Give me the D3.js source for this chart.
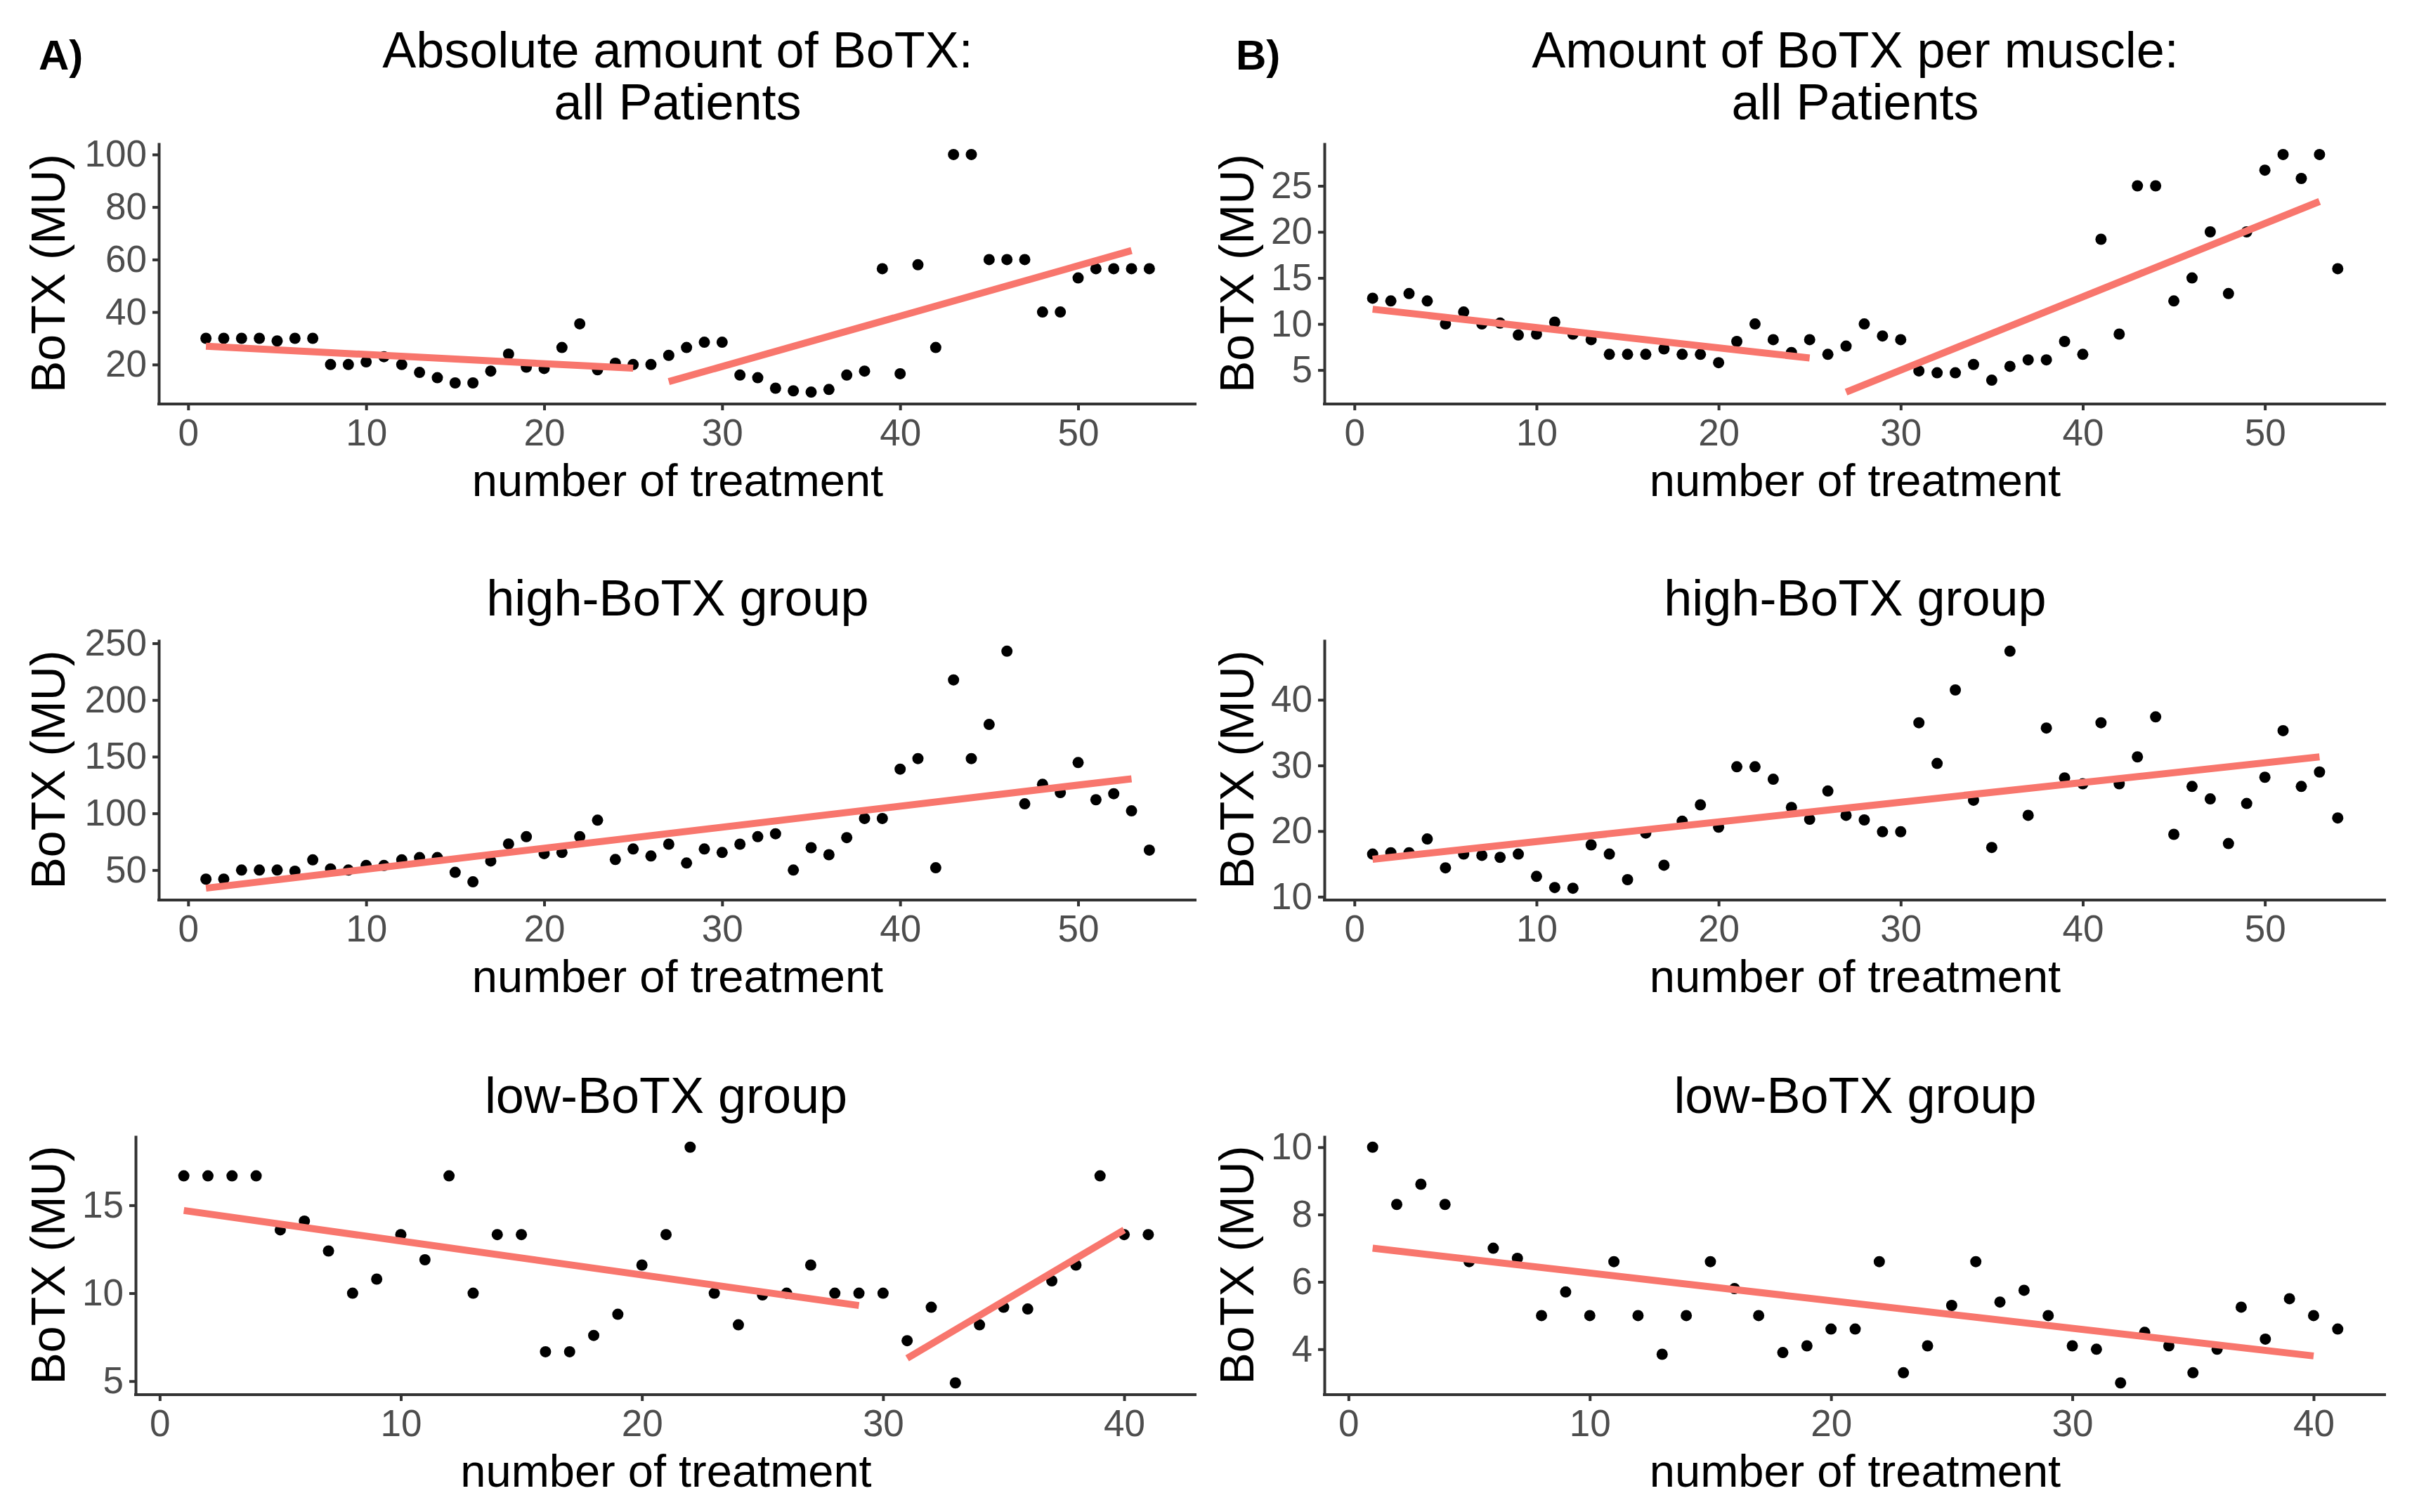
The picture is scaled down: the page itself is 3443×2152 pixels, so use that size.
<!DOCTYPE html>
<html>
<head>
<meta charset="utf-8">
<script src="https://cdn.jsdelivr.net/npm/d3@7"></script>
<style>
  html, body { margin: 0; padding: 0; background: #ffffff; }
  svg { display: block; }
  text { font-family: "Liberation Sans", Arial, Helvetica, sans-serif; }
</style>
</head>
<body>
<svg id="chart" width="3443" height="2152"></svg>
<script>
// ---------------- DATA ----------------
const treatments54 = [1,2,3,4,5,6,7,8,9,10,11,12,13,14,15,16,17,18,19,20,21,22,23,24,25,26,27,28,29,30,31,32,33,34,35,36,37,38,39,40,41,42,43,44,45,46,47,48,49,50,51,52,53,54];
const treatments41 = [1,2,3,4,5,6,7,8,9,10,11,12,13,14,15,16,17,18,19,20,21,22,23,24,25,26,27,28,29,30,31,32,33,34,35,36,37,38,39,40,41];

// A) absolute amount of BoTX
const absAll = [30,30,30,30,29,30,30,20,20,21,23,20,17,15,13,13,17.5,24,19,18.5,26.5,35.5,18,20.5,20,20,23.5,26.5,28.5,28.5,16,15,11,10,9.5,10.5,16,17.5,56.5,16.5,58,26.5,100,100,60,60,60,40,40,53,56.5,56.5,56.5,56.5];
const absHigh = [42,42,50,50,50,49,59,51,50,54,54,59,61,61,48,39.6,58,73,79.4,64.5,65.5,79.4,94,59.3,68.6,62.4,72.8,56.2,68.6,65.5,72.8,79.4,82,50,69.7,63.5,78.6,95.5,95.5,139,148.3,52,217.7,148.3,178.4,243,108.4,125.6,118.3,144.8,112,117.3,102.2,67.6];
const absLow = [16.67,16.67,16.67,16.67,13.6,14.1,12.4,10,10.8,13.33,11.9,16.67,10,13.33,13.33,6.67,6.67,7.6,8.8,11.6,13.33,18.3,10,8.2,9.9,10,11.6,10,10,10,7.3,9.2,4.9,8.2,9.2,9.1,10.7,11.6,16.67,13.33,13.33];

// B) amount of BoTX per muscle
const perMuscleAll = [12.8,12.5,13.3,12.5,10,11.3,10,10.1,8.8,8.9,10.2,8.9,8.3,6.7,6.7,6.7,7.3,6.7,6.7,5.8,8.1,10,8.3,6.9,8.3,6.7,7.6,10,8.7,8.3,4.9,4.7,4.7,5.6,3.9,5.4,6.1,6.1,8.1,6.7,19.2,8.9,25,25,12.5,15,20,13.3,20,26.7,28.4,25.8,28.4,16];
const perMuscleHigh = [16.5,16.7,16.7,18.8,14.4,16.5,16.3,16,16.5,13.1,11.4,11.3,17.9,16.5,12.6,19.7,14.8,21.5,24,20.6,29.8,29.8,27.9,23.6,21.8,26.1,22.4,21.7,19.9,19.9,36.5,30.3,41.5,24.7,17.5,47.4,22.4,35.7,28.1,27.2,36.5,27.2,31.3,37.4,19.5,26.8,24.9,18.1,24.2,28.2,35.3,26.8,29,22];
const perMuscleLow = [10,8.3,8.9,8.3,6.6,7,6.7,5,5.7,5,6.6,5,3.85,5,6.6,5.8,5,3.9,4.1,4.6,4.6,6.6,3.3,4.1,5.3,6.6,5.4,5.75,5,4.1,4,3,4.5,4.1,3.3,4,5.25,4.3,5.5,5,4.6];

// fitted regression segments: [xStart, xEnd, yStart, yEnd]
const fitAbsAll = [[1,25,27,18.6],[27,53,13.5,63.4]];
const fitAbsHigh = [[1,53,34,130.5]];
const fitAbsLow = [[1,29,14.7,9.3],[31,40,6.3,13.6]];
const fitPerMuscleAll = [[1,25,11.6,6.3],[27,53,2.6,23.3]];
const fitPerMuscleHigh = [[1,53,15.7,31.3]];
const fitPerMuscleLow = [[1,40,7.0,3.8]];

// tick labels
const xTicks54 = [0,10,20,30,40,50];
const xTicks41 = [0,10,20,30,40];
const yTicksAbsAll = [20,40,60,80,100];
const yTicksAbsHigh = [50,100,150,200,250];
const yTicksAbsLow = [5,10,15];
const yTicksPerMuscleAll = [5,10,15,20,25];
const yTicksPerMuscleHigh = [10,20,30,40];
const yTicksPerMuscleLow = [4,6,8,10];

// titles
const titlesA = [["Absolute amount of BoTX:", "all Patients"], ["high-BoTX group"], ["low-BoTX group"]];
const titlesB = [["Amount of BoTX per muscle:", "all Patients"], ["high-BoTX group"], ["low-BoTX group"]];
const xLabel = "number of treatment";
const yLabel = "BoTX (MU)";

// ---------------- LAYOUT ----------------
const svg = d3.select("#chart");
svg.append("rect").attr("width", 3443).attr("height", 2152).attr("fill", "#ffffff");

const rows = [
  { top: 203, bottom: 575, titleBase: [96, 170] },
  { top: 910, bottom: 1281, titleBase: [876] },
  { top: 1616, bottom: 1985, titleBase: [1584] }
];

const panels = [
  { row: 0, left: 226, right: 1703, yTitleX: 68, x: treatments54, y: absAll, fit: fitAbsAll, xt: xTicks54, yt: yTicksAbsAll, title: titlesA[0] },
  { row: 1, left: 226, right: 1703, yTitleX: 68, x: treatments54, y: absHigh, fit: fitAbsHigh, xt: xTicks54, yt: yTicksAbsHigh, title: titlesA[1] },
  { row: 2, left: 193, right: 1703, yTitleX: 68, x: treatments41, y: absLow, fit: fitAbsLow, xt: xTicks41, yt: yTicksAbsLow, title: titlesA[2] },
  { row: 0, left: 1885, right: 3396, yTitleX: 1760, x: treatments54, y: perMuscleAll, fit: fitPerMuscleAll, xt: xTicks54, yt: yTicksPerMuscleAll, title: titlesB[0] },
  { row: 1, left: 1885, right: 3396, yTitleX: 1760, x: treatments54, y: perMuscleHigh, fit: fitPerMuscleHigh, xt: xTicks54, yt: yTicksPerMuscleHigh, title: titlesB[1] },
  { row: 2, left: 1885, right: 3396, yTitleX: 1760, x: treatments41, y: perMuscleLow, fit: fitPerMuscleLow, xt: xTicks41, yt: yTicksPerMuscleLow, title: titlesB[2] }
];

const AXIS_COLOR = "#333333";
const TICK_TEXT = "#4D4D4D";
const FIT_COLOR = "#F8766D";

function drawPanel(p) {
  const r = rows[p.row];
  const fitVals = p.fit.flatMap(s => [s[2], s[3]]);
  const [ymin, ymax] = d3.extent(p.y.concat(fitVals));
  const ey = (ymax - ymin) * 0.05;
  const [xmin, xmax] = d3.extent(p.x);
  const ex = (xmax - xmin) * 0.05;

  const x = d3.scaleLinear().domain([xmin - ex, xmax + ex]).range([p.left, p.right]);
  const y = d3.scaleLinear().domain([ymin - ey, ymax + ey]).range([r.bottom, r.top]);

  const g = svg.append("g");

  // points
  g.append("g").selectAll("circle")
    .data(p.x.map((t, i) => ({ t: t, v: p.y[i] })))
    .join("circle")
    .attr("cx", d => x(d.t))
    .attr("cy", d => y(d.v))
    .attr("r", 8)
    .attr("fill", "#000000");

  // fitted lines
  g.append("g").selectAll("line")
    .data(p.fit)
    .join("line")
    .attr("x1", d => x(d[0]))
    .attr("x2", d => x(d[1]))
    .attr("y1", d => y(d[2]))
    .attr("y2", d => y(d[3]))
    .attr("stroke", FIT_COLOR)
    .attr("stroke-width", 10)
    .attr("stroke-linecap", "butt");

  // axes
  const xAxis = d3.axisBottom(x).tickValues(p.xt).tickSize(9).tickSizeOuter(0).tickPadding(12).tickFormat(d3.format("d"));
  const yAxis = d3.axisLeft(y).tickValues(p.yt).tickSize(9).tickSizeOuter(0).tickPadding(8).tickFormat(d3.format("d"));

  const gx = g.append("g").attr("transform", `translate(0,${r.bottom})`).call(xAxis);
  const gy = g.append("g").attr("transform", `translate(${p.left},0)`).call(yAxis);

  [gx, gy].forEach(ax => {
    ax.select(".domain").attr("stroke", AXIS_COLOR).attr("stroke-width", 4);
    ax.selectAll(".tick line").attr("stroke", AXIS_COLOR).attr("stroke-width", 4);
    ax.selectAll(".tick text")
      .attr("fill", TICK_TEXT)
      .style("font-size", "53px")
      .style("font-family", '"Liberation Sans", Arial, sans-serif');
  });
  gx.select(".domain").attr("d", `M${p.left - 2},0H${p.right}`);

  // titles
  const cx = (p.left + p.right) / 2;
  p.title.forEach((t, i) => {
    g.append("text")
      .attr("x", cx)
      .attr("y", r.titleBase[i])
      .attr("text-anchor", "middle")
      .attr("fill", "#000000")
      .style("font-size", "72px")
      .text(t);
  });

  // x label
  g.append("text")
    .attr("x", cx)
    .attr("y", r.bottom + 131)
    .attr("text-anchor", "middle")
    .attr("fill", "#000000")
    .style("font-size", "65px")
    .text(xLabel);

  // y label
  const cy = (r.top + r.bottom) / 2;
  g.append("text")
    .attr("transform", `translate(${p.yTitleX + 24},${cy}) rotate(-90)`)
    .attr("text-anchor", "middle")
    .attr("fill", "#000000")
    .style("font-size", "68px")
    .text(yLabel);
}

panels.forEach(drawPanel);

// panel tags
svg.append("text").attr("x", 55).attr("y", 99).style("font-size", "60px").style("font-weight", "bold").attr("fill", "#000").text("A)");
svg.append("text").attr("x", 1759).attr("y", 99).style("font-size", "60px").style("font-weight", "bold").attr("fill", "#000").text("B)");
</script>
</body>
</html>
